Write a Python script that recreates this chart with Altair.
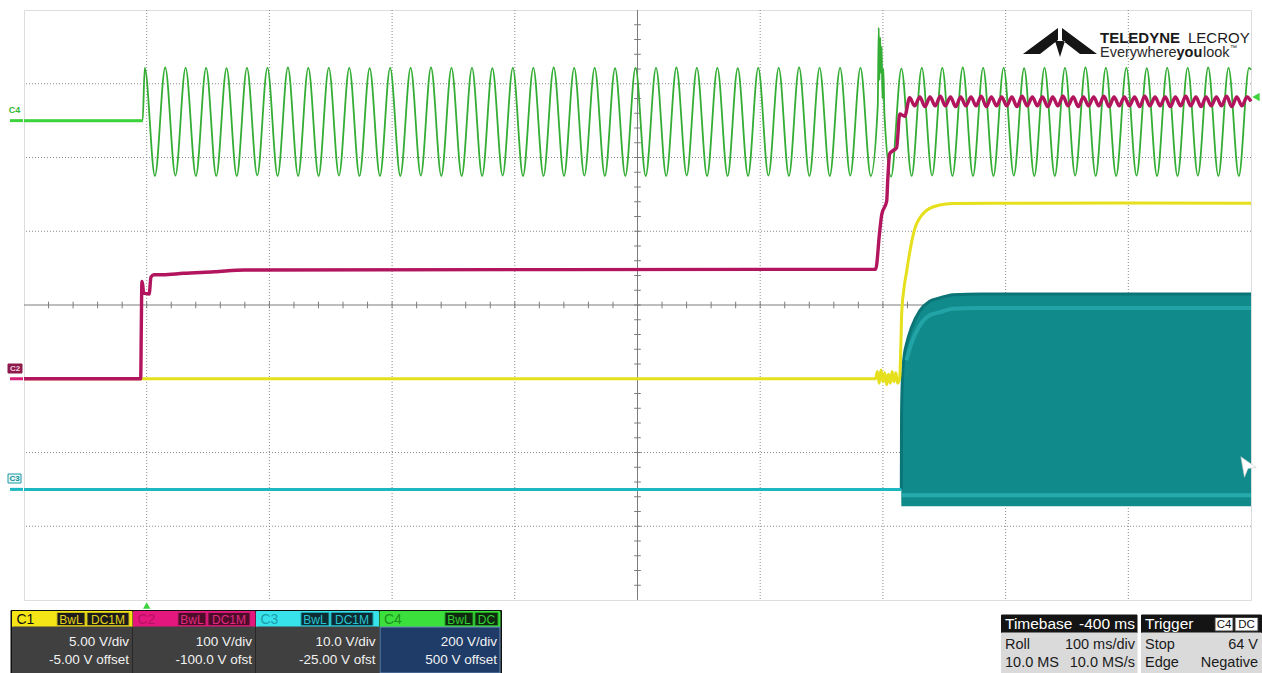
import altair as alt
import pandas as pd

# ---------------- acquisition settings ----------------
# Time is in ms relative to the trigger point (100 ms/div over 10 divisions).
ch_names = ["C1", "C2", "C3", "C4"]
ch_volts_per_div = [5.0, 100.0, 10.0, 200.0]
ch_offset_volts = [-5.0, -100.0, -25.0, 500.0]
trigger_level_volts = 64.0

# ---------------- C4: AC line (extremes of each half cycle) ----------------
c4_time = [-100, -3.3,
           -1.6, 6.7, 15.1, 23.4, 31.7, 40.1, 48.4, 56.7, 65.1, 73.4,
           81.7, 90.1, 98.4, 106.7, 115.1, 123.4, 131.7, 140.1, 148.4, 156.7,
           165.1, 173.4, 181.7, 190.1, 198.4, 206.7, 215.1, 223.4, 231.7, 240.1,
           248.4, 256.7, 265.1, 273.4, 281.7, 290.1, 298.4, 306.7, 315.1, 323.4,
           331.7, 340.1, 348.4, 356.7, 365.1, 373.4, 381.7, 390.1, 398.4, 406.7,
           415.1, 423.4, 431.7, 440.1, 448.4, 456.7, 465.1, 473.4, 481.7, 490.1,
           498.4, 506.7, 515.1, 523.4, 531.7, 540.1, 548.4, 556.7, 565.1, 573.4,
           581.7, 590.1,
           595.8, 596.6, 597.2, 597.8, 598.4, 599.0, 599.6, 600.4, 601.2,
           606.7, 615.1, 623.4, 631.7, 640.1, 648.4, 656.7, 665.1, 673.4, 681.7,
           690.1, 698.4, 706.7, 715.1, 723.4, 731.7, 740.1, 748.4, 756.7, 765.1,
           773.4, 781.7, 790.1, 798.4, 806.7, 815.1, 823.4, 831.7, 840.1, 848.4,
           856.7, 865.1, 873.4, 881.7, 890.1, 898.4, 900]
c4_volts = [0, 0,
            143, -150, 144, -149, 143, -150, 143, -150, 142, -150,
            143, -149, 143, -150, 144, -150, 143, -150, 143, -149,
            143, -150, 142, -150, 143, -150, 143, -149, 144, -150,
            143, -150, 143, -150, 142, -149, 143, -150, 143, -150,
            144, -150, 143, -149, 143, -150, 142, -150, 143, -150,
            143, -150, 144, -149, 143, -150, 143, -150, 142, -150,
            143, -149, 143, -150, 144, -150, 143, -150, 143, -149,
            143, -150,
            40, 252, 110, 225, 130, 200, 60, 140, 20,
            -152, 141, -150, 143, -149, 143, -150, 144, -150, 143,
            -150, 143, -149, 142, -150, 143, -150, 143, -149, 144,
            -150, 143, -150, 143, -149, 142, -150, 143, -150, 143,
            -149, 144, -150, 143, -150, 143, 138]

# ---------------- C2: DC bus ----------------
c2_time = [-100, -4.9, -4.4, -3.9, -3.3, -2.5, 2.0, 3.5, 6.0, 13.0, 30.0, 55.0, 80.0,
           594.1, 597.4, 599.1, 603.1, 603.9, 605.5, 607.9, 611.2, 613.7, 617.8, 621.8,
           625.9, 630.1, 634.3, 638.4, 642.6, 646.8, 650.9, 655.1, 659.3, 663.4,
           667.6, 671.8, 675.9, 680.1, 684.3, 688.4, 692.6, 696.8, 700.9, 705.1,
           709.3, 713.4, 717.6, 721.8, 725.9, 730.1, 734.3, 738.4, 742.6, 746.8,
           750.9, 755.1, 759.3, 763.4, 767.6, 771.8, 775.9, 780.1, 784.3, 788.4,
           792.6, 796.8, 800.9, 805.1, 809.3, 813.4, 817.6, 821.8, 825.9, 830.1,
           834.3, 838.4, 842.6, 846.8, 850.9, 855.1, 859.3, 863.4, 867.6, 871.8,
           875.9, 880.1, 884.3, 888.4, 892.6, 896.8, 900]
c2_volts = [0, 0, 70, 132, 128, 116, 115, 138, 141, 141, 143, 145, 147.5,
            148.5, 200, 223, 241, 268, 305, 309, 313, 359, 356, 381,
            370, 382, 369, 382, 370, 383, 370, 382, 369, 382,
            370, 382, 370, 383, 369, 382, 370, 382, 370, 382,
            369, 383, 370, 382, 370, 382, 369, 382, 370, 383,
            370, 382, 369, 382, 370, 382, 370, 383, 369, 382,
            370, 382, 370, 382, 369, 383, 370, 382, 370, 382,
            369, 382, 370, 383, 370, 382, 369, 382, 370, 382,
            370, 383, 369, 382, 370, 382, 376]

# ---------------- C1: regulated output ----------------
c1_time = [-100, 594, 595.5, 597, 598.5, 600, 601.5, 603, 604.5, 606, 607.5, 609, 610.5, 612,
           613.7, 614.6, 615.3, 617.0, 619.4, 621.5, 623.5, 626.5, 630.0, 634.0,
           638.1, 646.3, 656.9, 700, 800, 900]
c1_volts = [0, 0, 0.5, -0.3, 0.6, -0.2, 0.4, -0.4, 0.3, -0.3, 0.5, -0.2, 0.4, -0.3,
            0.05, 2.2, 4.4, 6.0, 7.3, 8.4, 9.3, 10.3, 10.9, 11.3,
            11.55, 11.78, 11.88, 11.9, 11.92, 11.9]

# ---------------- C3: switch node ----------------
c3_idle_time = [-100, 615.0]
c3_idle_volts = [0, 0]
c3_band_time = [615.0, 615.2, 615.9, 617.5, 619.2, 623.2, 630.0, 638.1, 646.3, 656.9, 680, 900]
c3_band_high = [0, 10.0, 15.0, 18.3, 19.7, 21.9, 24.2, 25.5, 25.95, 26.4, 26.5, 26.5]
c3_band_low = -2.3
c3_upper_trace_time = [619.2, 623.2, 630.0, 638.1, 646.3, 656.9, 680, 900]
c3_upper_trace_volts = [17.5, 19.8, 22.2, 23.6, 24.0, 24.5, 24.6, 24.6]
c3_lower_trace_time = [615.6, 900]
c3_lower_trace_volts = [-0.8, -0.8]

# ---------------- descriptor texts ----------------
panel_scale = ["5.00 V/div", "100 V/div", "10.0 V/div", "200 V/div"]
panel_offset = ["-5.00 V offset", "-100.0 V ofst", "-25.00 V ofst", "500 V offset"]
panel_badges = [["BwL", "DC1M"], ["BwL", "DC1M"], ["BwL", "DC1M"], ["BwL", "DC"]]
timebase_title = ["Timebase", "-400 ms"]
timebase_rows = [["Roll", "100 ms/div"], ["10.0 MS", "10.0 MS/s"]]
trigger_title = "Trigger"
trigger_badges = ["C4", "DC"]
trigger_rows = [["Stop", "64 V"], ["Edge", "Negative"]]
brand = ["TELEDYNE", "LECROY"]
slogan = ["Everywhere", "you", "look", "\u2122"]

# ---------------- helpers ----------------
SETTINGS = dict(zip(ch_names, zip(ch_volts_per_div, ch_offset_volts)))
FONT = "Liberation Sans"
OX, OY = 24, 10          # page position of the graticule's top-left corner
W, H = 1227, 590         # graticule size in pixels


def to_div(ch, volts):
    vdiv, off = SETTINGS[ch]
    return [(v + off) / vdiv for v in volts]


def trace_frame(ch, times, volts):
    return pd.DataFrame({"t": times, "d": to_div(ch, volts)})


xs = alt.Scale(domain=[-100, 900], nice=False, zero=False)
ys = alt.Scale(domain=[-4, 4], nice=False, zero=False)
X = alt.X("t:Q", scale=xs, axis=None)
Y = alt.Y("d:Q", scale=ys, axis=None)


def line(df, color, width, opacity=1.0):
    return alt.Chart(df).mark_line(color=color, strokeWidth=width, opacity=opacity,
                                   interpolate="monotone", strokeJoin="round").encode(x=X, y=Y)


def px_enc():
    return dict(x=alt.X("x:Q", scale=None, axis=None), y=alt.Y("y:Q", scale=None, axis=None))


def rects(rows):
    df = pd.DataFrame(rows, columns=["x", "y", "x2", "y2", "fill", "stroke"])
    df[["x", "x2"]] -= OX
    df[["y", "y2"]] -= OY
    return alt.Chart(df).mark_rect(strokeWidth=1).encode(
        **px_enc(), x2="x2:Q", y2="y2:Q",
        fill=alt.Fill("fill:N", scale=None, legend=None),
        stroke=alt.Stroke("stroke:N", scale=None, legend=None),
    )


def texts(rows, align="left", weight="normal", baseline="middle"):
    df = pd.DataFrame(rows, columns=["x", "y", "text", "color", "size"])
    df["x"] -= OX
    df["y"] -= OY
    return alt.Chart(df).mark_text(align=align, baseline=baseline, font=FONT, fontWeight=weight).encode(
        **px_enc(), text="text:N",
        color=alt.Color("color:N", scale=None, legend=None),
        size=alt.Size("size:Q", scale=None, legend=None),
    )


layers = []

# ---------------- graticule ----------------
grid_t = pd.DataFrame({"t": [0, 100, 200, 300, 500, 600, 700, 800]})
grid_d = pd.DataFrame({"d": [-3, -2, -1, 1, 2, 3]})
layers.append(alt.Chart(grid_t).mark_rule(color="#8a8a8a", strokeWidth=1, strokeDash=[1, 2]).encode(x=X))
layers.append(alt.Chart(grid_d).mark_rule(color="#8a8a8a", strokeWidth=1, strokeDash=[1, 2]).encode(y=Y))
layers.append(alt.Chart(pd.DataFrame({"t": [400]})).mark_rule(color="#7c7c7c", strokeWidth=1).encode(x=X))
layers.append(alt.Chart(pd.DataFrame({"d": [0]})).mark_rule(color="#7c7c7c", strokeWidth=1).encode(y=Y))

minor_t = pd.DataFrame({"t": [-100 + 20 * i for i in range(1, 50)], "d": -0.045, "d2": 0.045})
minor_d = pd.DataFrame({"d": [-4 + 0.2 * i for i in range(1, 40)], "t": 397.3, "t2": 402.7})
layers.append(alt.Chart(minor_t).mark_rule(color="#7c7c7c", strokeWidth=1).encode(x=X, y=Y, y2="d2:Q"))
layers.append(alt.Chart(minor_d).mark_rule(color="#7c7c7c", strokeWidth=1).encode(y=Y, x=X, x2="t2:Q"))

# ---------------- C3 switch node ----------------
c3_band = pd.DataFrame({"t": c3_band_time,
                        "d": to_div("C3", c3_band_high),
                        "d2": to_div("C3", [c3_band_low] * len(c3_band_time))})
layers.append(alt.Chart(c3_band).mark_area(color="#118a8c", interpolate="monotone", opacity=1).encode(
    x=X, y=Y, y2="d2:Q"))
layers.append(line(c3_band, "#0b7476", 3))
layers.append(line(trace_frame("C3", c3_upper_trace_time, c3_upper_trace_volts), "#22a3a5", 4))
layers.append(line(trace_frame("C3", c3_lower_trace_time, c3_lower_trace_volts), "#26abad", 4))
layers.append(line(trace_frame("C3", c3_idle_time, c3_idle_volts), "#1db7c1", 3))

# ---------------- C4 line voltage ----------------
c4 = trace_frame("C4", c4_time, c4_volts)
layers.append(line(c4, "#34ad34", 1.8))
layers.append(line(c4[c4["t"] <= -3.3], "#3dd33d", 3))

# ---------------- C1 output ----------------
layers.append(line(trace_frame("C1", c1_time, c1_volts), "#e6df1c", 3))

# ---------------- C2 bus ----------------
layers.append(line(trace_frame("C2", c2_time, c2_volts), "#b2145e", 3.4))

# ---------------- channel ground markers at the left edge ----------------
marks = pd.DataFrame({"ch": ["C4", "C2", "C3"],
                      "d": [to_div(c, [0])[0] for c in ["C4", "C2", "C3"]],
                      "color": ["#3dd33d", "#d8207a", "#1db7c1"]})
layers.append(alt.Chart(marks).mark_rule(strokeWidth=3).encode(
    x=alt.value(-14), x2=alt.value(-1), y=Y, color=alt.Color("color:N", scale=None, legend=None)))
layers.append(rects([[8, 364, 22, 373, "#8e1a4c", "#8e1a4c"],
                     [8, 474, 21, 483, "#e6f7f8", "#1a9aa4"]]))
layers.append(texts([[14.5, 110, ch_names[3], "#33b833", 9],
                     [15, 368.5, ch_names[1], "#f4d0e0", 8],
                     [14.5, 478.5, ch_names[2], "#138f99", 8]], align="center", weight="bold"))

# trigger level and trigger time markers
trig = pd.DataFrame({"d": to_div("C4", [trigger_level_volts])})
layers.append(alt.Chart(trig).mark_point(shape="triangle-left", filled=True, color="#3dd33d",
                                         size=70, opacity=1).encode(x=alt.value(1256 - OX), y=Y))
layers.append(alt.Chart(pd.DataFrame({"t": [0]})).mark_point(shape="triangle-up", filled=True,
                                                              color="#3dd33d", size=55, opacity=1).encode(
    x=X, y=alt.value(605.5 - OY)))

# mouse pointer
layers.append(alt.Chart(pd.DataFrame({"k": [0]})).mark_point(
    shape="M-0.6,-1L0.9,0.05L0.1,0.15L-0.25,1Z", filled=True, color="#ffffff", stroke="#c8c8c8",
    strokeWidth=0.6, size=420, opacity=1).encode(x=alt.value(1247 - OX), y=alt.value(467 - OY)))

# ---------------- brand logo ----------------
logo_path = ("M-0.974,0.342L-0.053,-0.342L-0.053,-0.026L-0.526,0.342Z"
             "M0.974,0.342L0.053,-0.342L0.053,-0.026L0.526,0.342Z"
             "M-0.13,0L0.13,0L0,0.42Z")
layers.append(alt.Chart(pd.DataFrame({"k": [0]})).mark_point(
    shape=logo_path, filled=True, color="#151515", size=76 * 76, opacity=1).encode(
    x=alt.value(1060 - OX), y=alt.value(41 - OY)))
layers.append(texts([[1100, 43, brand[0], "#1a1a1a", 15]], weight="bold", baseline="alphabetic"))
layers.append(texts([[1188, 43, brand[1], "#1a1a1a", 15],
                     [1100, 57, slogan[0], "#2a2a2a", 14.5],
                     [1203, 57, slogan[2], "#2a2a2a", 14.5],
                     [1230, 50, slogan[3], "#2a2a2a", 7]], baseline="alphabetic"))
layers.append(texts([[1176.5, 57, slogan[1], "#1a1a1a", 14.5]], weight="bold", baseline="alphabetic"))

# ---------------- channel descriptor boxes ----------------
box_x = [(12.5, 132), (133.5, 255), (256.5, 378.5), (380, 500)]
hdr_fill = ["#f4e516", "#e4177f", "#38e2eb", "#3ce03c"]
hdr_text = ["#111111", "#b8115f", "#1a9eab", "#1c8f1c"]
body_fill = ["#404040", "#404040", "#404040", "#1f3c68"]
badge_fill = ["#1c1c1c", "#4d0d2a", "#0d2c33", "#0f2a0f"]
badge_stroke = ["#c8b818", "#c81a6e", "#1aa5b0", "#23a523"]
badge_text = ["#e6d41c", "#e02a80", "#2bc4d0", "#35cc35"]

box_rows = [[11, 610.5, 501.5, 673, "#111111", "#111111"]]
badge_rows, badge_labels, hdr_labels, body_labels = [], [], [], []
for i, (x0, x1) in enumerate(box_x):
    box_rows.append([x0, 611.5, x1, 627, hdr_fill[i], hdr_fill[i]])
    box_rows.append([x0, 627, x1, 673, body_fill[i], "#6d8fb8" if i == 3 else body_fill[i]])
    spans = [(445, 473), (475, 498)] if i == 3 else [(x0 + 44.5, x0 + 72.5), (x0 + 74.5, x0 + 116.5)]
    for (b0, b1), lab in zip(spans, panel_badges[i]):
        badge_rows.append([b0, 612.5, b1, 625.5, badge_fill[i], badge_stroke[i]])
        badge_labels.append([(b0 + b1) / 2, 619.5, lab, badge_text[i], 12])
    hdr_labels.append([x0 + 4, 619.5, ch_names[i], hdr_text[i], 14])
    body_labels.append([x1 - 3, 642, panel_scale[i], "#f2f2f2", 13.5])
    body_labels.append([x1 - 3, 660, panel_offset[i], "#f2f2f2", 13.5])

# ---------------- timebase / trigger boxes ----------------
box_rows += [[1001.5, 615, 1137, 633, "#141414", "#141414"],
             [1001.5, 633, 1137, 673, "#dadada", "#dadada"],
             [1141.5, 615, 1261.5, 633, "#141414", "#141414"],
             [1141.5, 633, 1261.5, 673, "#dadada", "#dadada"]]
badge_rows += [[1215, 617.5, 1233, 631, "#ffffff", "#3a3a3a"],
               [1235, 617.5, 1258, 631, "#ffffff", "#3a3a3a"]]
badge_labels += [[1224, 624.5, trigger_badges[0], "#111111", 11.5],
                 [1246.5, 624.5, trigger_badges[1], "#111111", 11.5]]
hdr_labels += [[1005, 624, timebase_title[0], "#ffffff", 15.5],
               [1145, 624, trigger_title, "#ffffff", 15.5]]
right_labels = [[1135, 624, timebase_title[1], "#ffffff", 15.5]]
for j, yy in enumerate([645, 663]):
    hdr_labels.append([1005, yy, timebase_rows[j][0], "#1a1a1a", 14.5])
    hdr_labels.append([1145, yy, trigger_rows[j][0], "#1a1a1a", 14.5])
    right_labels.append([1135, yy, timebase_rows[j][1], "#1a1a1a", 14.5])
    right_labels.append([1258, yy, trigger_rows[j][1], "#1a1a1a", 14.5])

layers.append(rects(box_rows))
layers.append(rects(badge_rows))
layers.append(texts(badge_labels, align="center"))
layers.append(texts(hdr_labels))
layers.append(texts(body_labels + right_labels, align="right"))

chart = alt.layer(*layers).resolve_scale(x="independent", y="independent").properties(
    width=W, height=H,
    autosize=alt.AutoSizeParams(type="none"),
    padding={"left": OX, "top": OY, "right": 1262 - OX - W, "bottom": 673 - OY - H},
    background="#ffffff",
).configure_view(stroke="#8c8c8c", strokeWidth=2).configure(font=FONT)

chart.save("out.html", embed_options={"renderer": "svg", "actions": False})
